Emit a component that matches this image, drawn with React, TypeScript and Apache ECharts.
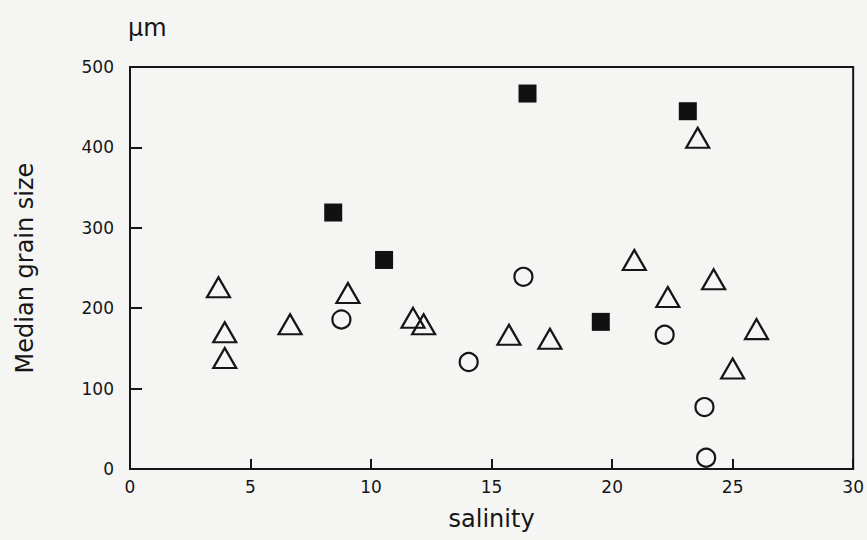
import React, { useEffect, useRef } from "react";
import * as echarts from "echarts";

const xTicks = [0, 5, 10, 15, 20, 25, 30];
const yTicks = [0, 100, 200, 300, 400, 500];

// salinity, median grain size (µm)
const squareX = [8.43, 10.54, 16.49, 19.53, 23.14];
const squareY = [319, 260, 467, 183, 445];

const triangleX = [3.67, 3.93, 3.93, 6.64, 9.04, 11.74, 12.18, 15.72, 17.42, 20.92, 22.31, 23.55, 24.21, 25.0, 25.99];
const triangleY = [226, 170, 138, 180, 219, 188, 180, 167, 162, 260, 214, 412, 236, 125, 174];

const circleX = [8.77, 14.05, 16.32, 22.18, 23.83, 23.9];
const circleY = [186, 133, 239, 167, 77, 14];

const pairs = (xs: number[], ys: number[]) => xs.map((x, i) => [x, ys[i]]);

const FONT = "DejaVu Sans";
const INK = "#161616";

export default function App() {
  const ref = useRef<HTMLDivElement>(null);

  useEffect(() => {
    document.body.style.margin = "0";
    if (!ref.current) return;
    const chart = echarts.init(ref.current, undefined, { renderer: "svg" });
    chart.setOption({
      animation: false,
      backgroundColor: "#f5f5f3",
      grid: {
        left: 130,
        right: 11,
        top: 67,
        bottom: 71,
        show: true,
        borderColor: INK,
        borderWidth: 2,
        backgroundColor: "transparent",
      },
      xAxis: {
        type: "value",
        min: xTicks[0],
        max: xTicks[xTicks.length - 1],
        interval: 5,
        name: "salinity",
        nameLocation: "middle",
        nameGap: 38,
        nameTextStyle: { fontFamily: FONT, fontSize: 24, color: INK },
        axisLine: { show: true, lineStyle: { color: INK, width: 2 } },
        axisTick: { show: true, inside: true, length: 10, lineStyle: { color: INK, width: 2 } },
        axisLabel: { margin: 9, fontFamily: FONT, fontSize: 17, color: INK },
        splitLine: { show: false },
      },
      yAxis: {
        type: "value",
        min: yTicks[0],
        max: yTicks[yTicks.length - 1],
        interval: 100,
        name: "Median grain size",
        nameLocation: "middle",
        nameGap: 93,
        nameTextStyle: { fontFamily: FONT, fontSize: 24, color: INK },
        axisLine: { show: true, lineStyle: { color: INK, width: 2 } },
        axisTick: { show: true, inside: true, length: 12, lineStyle: { color: INK, width: 2 } },
        axisLabel: { margin: 16, fontFamily: FONT, fontSize: 17, color: INK },
        splitLine: { show: false },
      },
      graphic: [
        {
          type: "text",
          x: 128,
          y: 28,
          style: {
            text: "μm",
            font: `24px '${FONT}'`,
            fill: INK,
            textAlign: "left",
            textVerticalAlign: "middle",
          },
        },
      ],
      series: [
        {
          type: "scatter",
          name: "triangles",
          data: pairs(triangleX, triangleY),
          symbol: "triangle",
          symbolSize: [23, 20],
          itemStyle: { color: "rgba(0,0,0,0)", borderColor: INK, borderWidth: 2.2, opacity: 1 },
        },
        {
          type: "scatter",
          name: "circles",
          data: pairs(circleX, circleY),
          symbol: "circle",
          symbolSize: 18,
          itemStyle: { color: "rgba(0,0,0,0)", borderColor: INK, borderWidth: 2.2, opacity: 1 },
        },
        {
          type: "scatter",
          name: "squares",
          data: pairs(squareX, squareY),
          symbol: "rect",
          symbolSize: 18,
          itemStyle: { color: "#111111", opacity: 1 },
        },
      ],
    });
    return () => chart.dispose();
  }, []);

  return <div ref={ref} style={{ width: 867, height: 540 }} />;
}
